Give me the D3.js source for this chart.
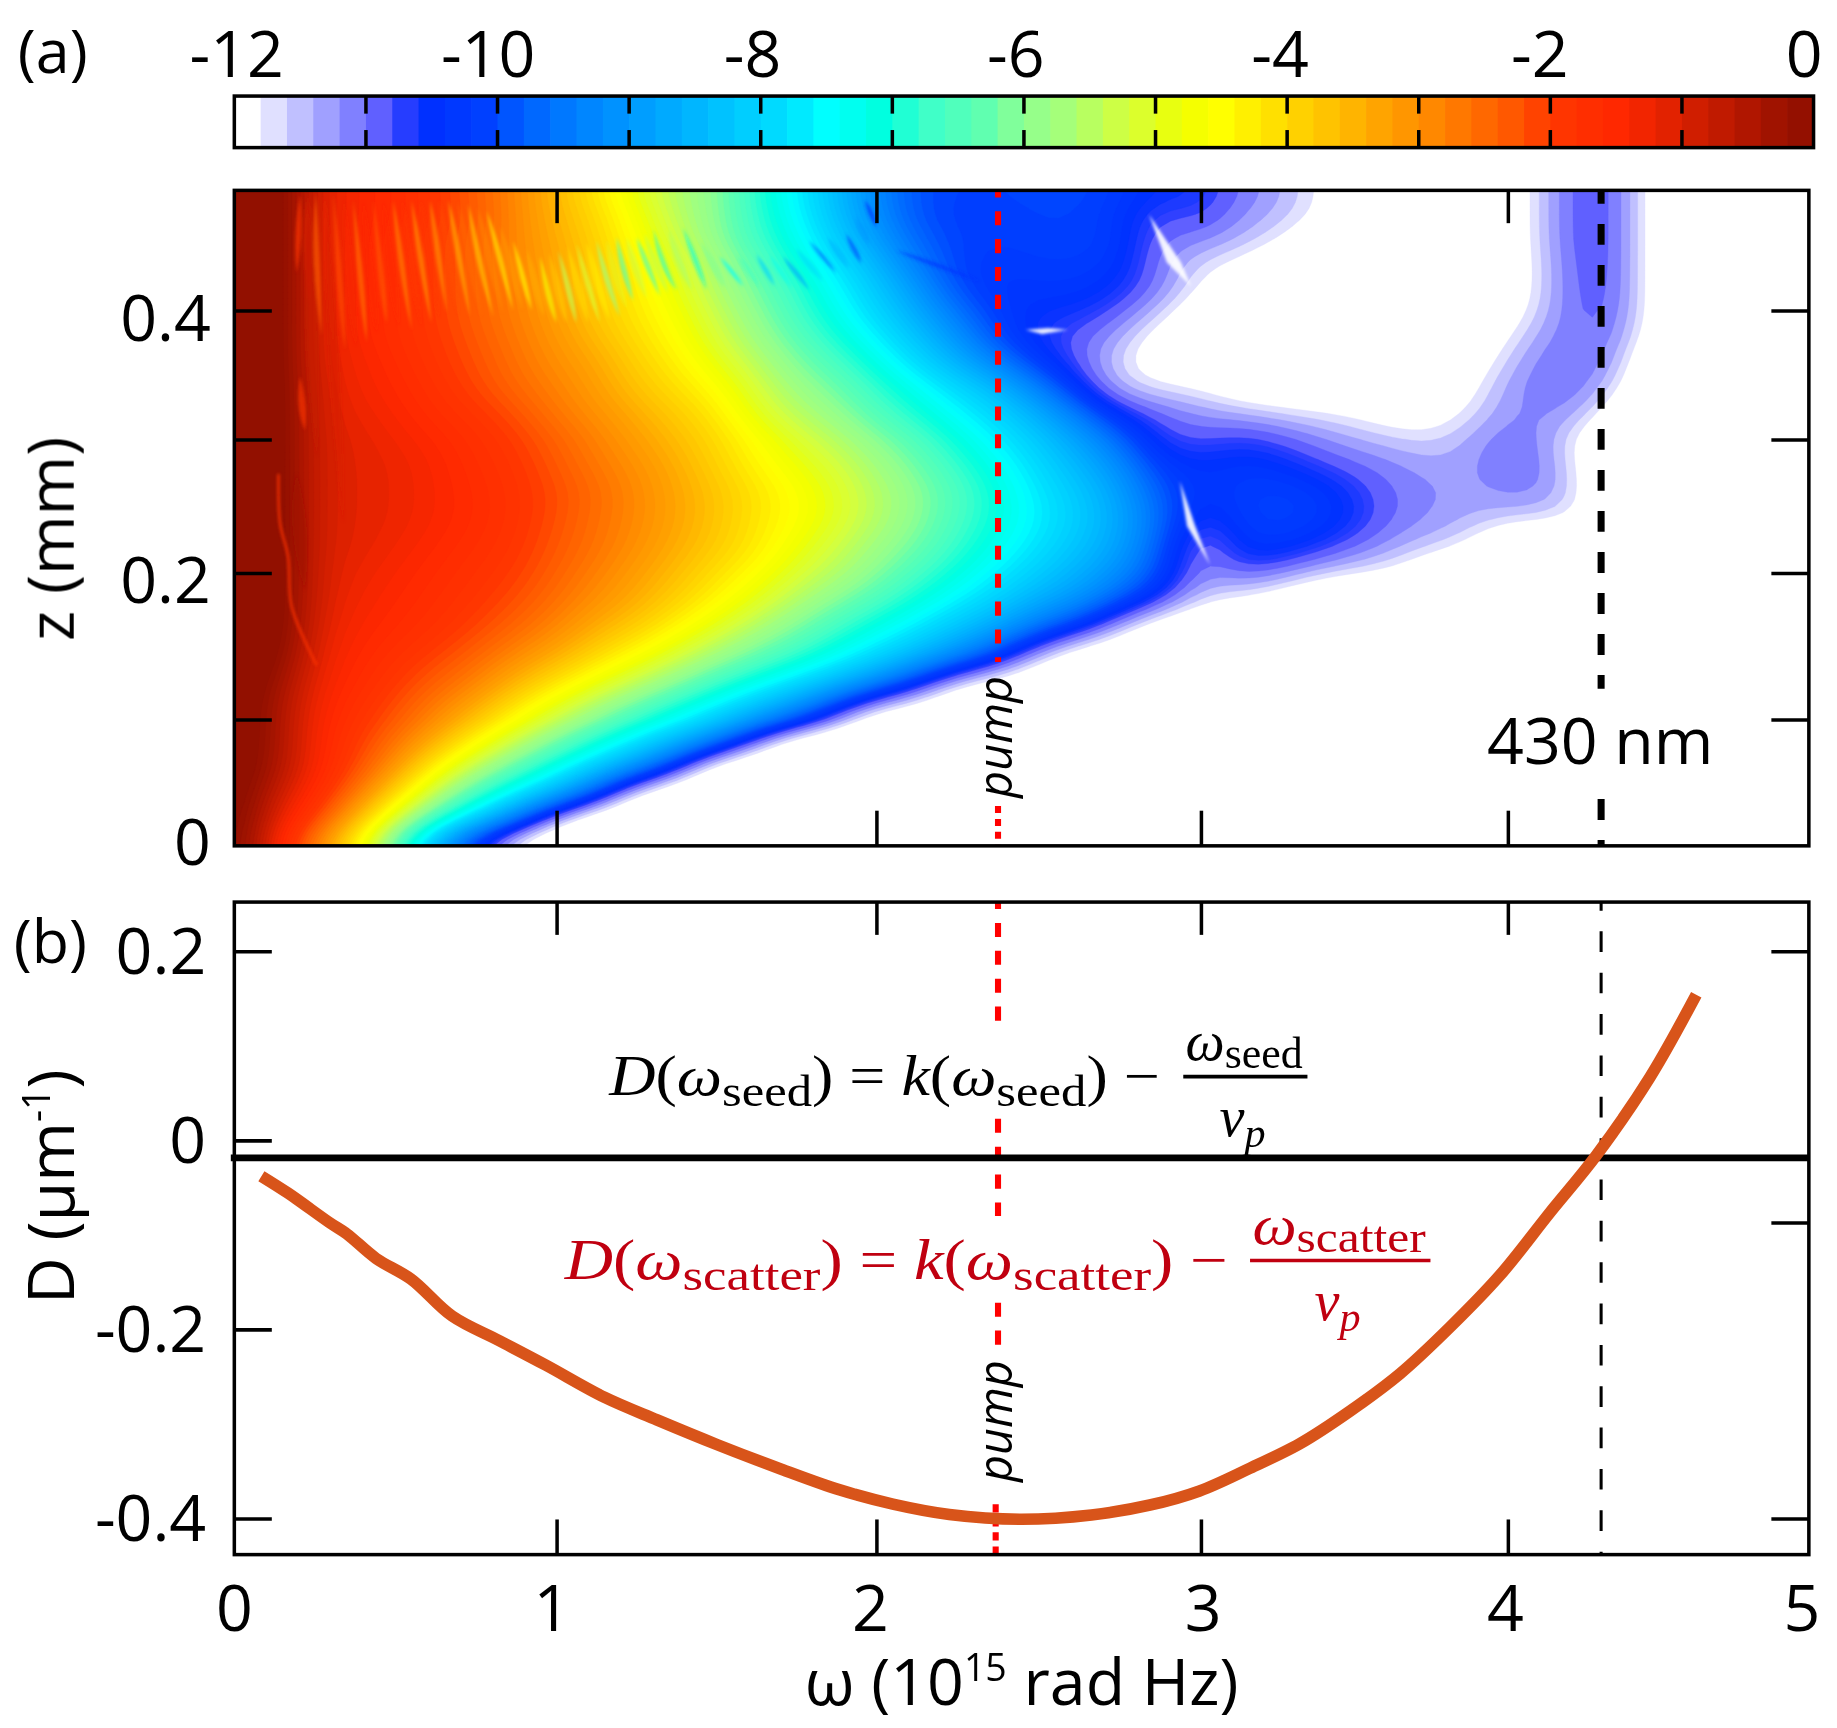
<!DOCTYPE html>
<html><head><meta charset="utf-8">
<script src="https://cdn.jsdelivr.net/npm/d3@7"></script>
<style>
html,body{margin:0;padding:0;background:#fff;overflow:hidden}
svg{display:block}
text{font-family:"Open Sans",sans-serif;fill:#000}
.m{font-family:"Liberation Serif",serif}
</style></head><body>
<script>
// ---------- data ----------
const colorStops = [[-12,"#ffffff"],[-11.9,"#ffffff"],[-11.7,"#e0e0ff"],[-11.5,"#c0c0ff"],[-11.3,"#a0a0ff"],[-11.1,"#8080ff"],[-10.9,"#6060ff"],[-10.75,"#3040ff"],[-10.5,"#0030ff"],[-10.1,"#0040ff"],[-9.8,"#0060ff"],[-9.4,"#0080ff"],[-9,"#0098ff"],[-8.6,"#00b0ff"],[-8.2,"#00c8ff"],[-7.8,"#00e0ff"],[-7.5,"#00ffff"],[-7.1,"#00ffe0"],[-6.7,"#40ffc8"],[-6.3,"#60ffb0"],[-6,"#90ff90"],[-5.75,"#a0ff80"],[-5.5,"#b8ff60"],[-5.2,"#d8ff38"],[-5,"#e0ff20"],[-4.8,"#f0ff00"],[-4.5,"#ffff00"],[-4.2,"#ffe800"],[-4,"#ffd800"],[-3.65,"#ffc000"],[-3.25,"#ffa000"],[-3,"#ff9000"],[-2.7,"#ff7800"],[-2.3,"#ff5800"],[-2,"#ff3800"],[-1.75,"#ff3000"],[-1.5,"#ff2800"],[-1.2,"#ec2400"],[-1,"#d82000"],[-0.8,"#c81c00"],[-0.6,"#b81800"],[-0.4,"#a81400"],[-0.2,"#991200"],[0,"#8f0f00"]];
const barLabels = [-12,-10,-8,-6,-4,-2,0];
const omegaTicks = [0,1,2,3,4,5];
const zTicks = [0,0.1,0.2,0.3,0.4];
const zLabels = [0,0.2,0.4];
const dLeftTicks = [0.2,0,-0.2,-0.4];
const dRightTicks = [0.2,-0.087,-0.4];
const omegaPump = 2.375, omegaSeed = 4.31, dSeedLine = -0.0186;
// log intensity: rows run z = 0 to 0.5 in steps of 0.02, columns omega = 0 to 5 in steps of 0.125
// a row that stops early is blank to its right
const intensity = [
[.4,-1.4,-2.9,-4.5,-6.7,-9.1,-11,-12.6,-14],
[.4,-1.1,-2,-3.5,-5.2,-6.8,-8.1,-9.5,-11.8,-13.5,-15],
[.4,-.8,-1.6,-2.6,-4.1,-5.5,-6.7,-7.7,-8.6,-9.95,-12.4,-14],
[.4,-.4,-1.4,-2.1,-3.1,-4.6,-5.6,-6.5,-7.4,-8.3,-9.1,-10.7,-12.9,-14.5],
[.4,-.3,-1.4,-1.95,-2.6,-3.5,-4.6,-5.5,-6.3,-7.1,-7.9,-8.6,-9.6,-11.4,-13.2,-15],
[.4,-.3,-1.4,-1.8,-2.3,-2.9,-3.7,-4.6,-5.4,-6.1,-6.8,-7.5,-8.1,-8.8,-9.7,-11.2,-13,-15],
[.4,-.2,-1.3,-1.6,-2,-2.5,-2.9,-3.7,-4.4,-5.1,-5.7,-6.3,-7,-7.6,-8.2,-8.9,-9.7,-10.9,-12.6,-14.5],
[.4,.2,-1.2,-1.5,-1.8,-2.1,-2.5,-3,-3.5,-4.1,-4.7,-5.3,-5.9,-6.4,-6.9,-7.4,-8,-8.6,-9.3,-10.3,-11.9,-13.5,-15],
[.4,.4,-1.1,-1.4,-1.6,-1.8,-2.1,-2.5,-2.9,-3.5,-3.9,-4.5,-5.1,-5.7,-6.2,-6.8,-7.3,-7.8,-8.4,-8.9,-9.7,-10.5,-11.7,-13,-14.5],
[.4,.4,-1,-1.3,-1.5,-1.7,-1.9,-2.2,-2.6,-3,-3.4,-3.9,-4.4,-5,-5.6,-6.1,-6.6,-7.1,-7.6,-8.1,-8.7,-9,-9.9,-10.5,-11.7,-12,-12.5,-14],
[.4,.4,-1,-1.2,-1.4,-1.6,-1.8,-2,-2.4,-2.8,-3.2,-3.6,-4.1,-4.5,-5.1,-5.5,-6,-6.6,-7.1,-7.6,-8.1,-8.6,-9.1,-10,-11.3,-10.7,-10.9,-11.4,-11.7,-11.8,-12.5,-13.5],
[.4,.4,-1,-1.1,-1.3,-1.5,-1.7,-1.9,-2.3,-2.6,-3,-3.4,-3.8,-4.2,-4.8,-5.3,-5.8,-6.2,-6.8,-7.3,-7.8,-8.3,-8.8,-9.8,-11.5,-10.3,-10.3,-10.5,-10.9,-11.3,-11.5,-11.7,-13,-14],
[.4,.4,-1,-1.1,-1.2,-1.4,-1.6,-1.85,-2.2,-2.6,-2.9,-3.3,-3.7,-4.2,-4.5,-5,-5.5,-6,-6.6,-7.1,-7.6,-8.1,-8.7,-9.6,-10.8,-10.2,-10.1,-10.2,-10.5,-11,-11.2,-11.4,-11.5,-11.6,-11.8,-13],
[.4,.4,-1,-1.1,-1.2,-1.4,-1.6,-1.85,-2.15,-2.5,-2.9,-3.3,-3.7,-4.1,-4.55,-5,-5.5,-5.95,-6.5,-7.1,-7.7,-8.2,-8.8,-9.9,-10.5,-10.2,-10.1,-10.2,-10.6,-11,-11.15,-11.3,-11.1,-11.1,-11.8,-13],
[.4,.4,-1,-1.1,-1.2,-1.4,-1.7,-1.9,-2.3,-2.7,-3,-3.4,-3.9,-4.4,-4.8,-5.2,-5.7,-6.2,-6.8,-7.3,-7.9,-8.5,-9.1,-10.3,-10.4,-10.3,-10.4,-10.7,-10.9,-11.1,-11.3,-11.3,-10.9,-11.1,-11.9,-13],
[.4,.4,-1,-1.1,-1.3,-1.5,-1.75,-2,-2.4,-2.8,-3.2,-3.6,-4,-4.5,-5.1,-5.5,-6,-6.5,-7.1,-7.6,-8.2,-8.8,-9.7,-10.8,-10.9,-10.6,-10.8,-11.1,-11.4,-11.5,-11.7,-11.3,-10.95,-11.2,-12.1,-13],
[.4,.4,-1,-1.2,-1.4,-1.7,-1.9,-2.2,-2.7,-3,-3.4,-3.8,-4.2,-5,-5.5,-5.9,-6.5,-7,-7.5,-8,-8.6,-9.5,-10.5,-10.9,-11.2,-11.3,-11.5,-11.7,-11.8,-12.2,-12.2,-11.7,-11.2,-11.15,-11.25,-12.5],
[.4,.4,-1,-1.3,-1.5,-1.8,-2.1,-2.5,-2.8,-3.2,-3.7,-4.1,-4.5,-5.2,-5.8,-6.2,-6.8,-7.3,-7.9,-8.4,-9.4,-10.4,-11.6,-11.7,-11.8,-12.4,-12.6,-12.6,-12.6,-12.6,-12.6,-12,-11.2,-11,-11,-11.7,-13],
[.4,.4,-1.1,-1.3,-1.6,-1.9,-2.2,-2.6,-3,-3.3,-3.9,-4.3,-4.9,-5.5,-6.1,-6.6,-7.2,-7.9,-8.6,-9.4,-10.3,-10.9,-11.7,-12.4,-12.6,-12.6,-12.6,-12.6,-12.6,-12.6,-12.6,-12.3,-11.5,-11,-10.95,-11.3,-13],
[.4,.4,-1.1,-1.4,-1.7,-1.95,-2.3,-2.7,-3.1,-3.6,-4.1,-4.5,-5.2,-5.8,-6.4,-7,-7.6,-8.3,-9.1,-10.1,-10.7,-10.9,-11.3,-12.2,-12.6,-12.6,-12.6,-12.6,-12.6,-12.6,-12.6,-12.6,-11.8,-11.2,-10.95,-11.1,-12.4],
[.4,.4,-1.1,-1.4,-1.7,-2,-2.4,-2.8,-3.2,-3.8,-4.2,-4.7,-5.4,-6,-6.7,-7.3,-8,-8.7,-9.6,-10.3,-10.5,-10.5,-10.8,-11.5,-12.4,-12.6,-12.6,-12.6,-12.6,-12.6,-12.6,-12.6,-12.3,-11.4,-10.85,-10.95,-12.3],
[.4,.4,-1.1,-1.4,-1.7,-2,-2.4,-2.8,-3.3,-3.8,-4.3,-4.9,-5.6,-6.2,-6.8,-7.5,-8.2,-9,-10.1,-10.4,-10.3,-10.3,-10.5,-11,-11.9,-12.4,-12.6,-12.6,-12.6,-12.6,-12.6,-12.6,-12.4,-11.5,-10.75,-10.95,-12.3],
[.4,.4,-1.1,-1.4,-1.7,-2,-2.4,-2.9,-3.3,-3.8,-4.4,-5,-5.7,-6.4,-7.1,-7.8,-8.5,-9.5,-10.2,-10.3,-10.2,-10.2,-10.3,-11.1,-11.7,-11.9,-12.4,-12.6,-12.6,-12.6,-12.6,-12.6,-12.4,-11.5,-10.7,-10.95,-12.3],
[.4,.4,-1.1,-1.4,-1.7,-2,-2.4,-2.9,-3.4,-3.9,-4.6,-5.3,-6,-6.7,-7.3,-8.1,-8.9,-9.8,-10.1,-10.2,-10.1,-10.1,-10.2,-11.1,-11,-11.4,-11.7,-12.4,-12.6,-12.6,-12.6,-12.6,-12.4,-11.4,-10.7,-10.95,-12.3],
[.4,.4,-1.1,-1.4,-1.6,-1.9,-2.3,-2.9,-3.5,-4,-4.7,-5.5,-6,-6.8,-7.5,-8.3,-9.2,-10,-10.2,-10.2,-10.1,-10.1,-10.3,-10.9,-10.6,-11.2,-11.4,-11.8,-12.4,-12.6,-12.6,-12.6,-12.4,-11.4,-10.7,-10.95,-12.3],
[.4,.4,-1.1,-1.4,-1.6,-1.95,-2.4,-2.9,-3.6,-4.2,-5,-5.6,-6,-6.9,-7.6,-8.4,-9.3,-10,-10.1,-10.1,-10,-10,-10.2,-10.5,-10.5,-11,-11.3,-11.8,-12.4,-12.6,-12.6,-12.6,-12.4,-11.4,-10.7,-10.95,-12.3]
];
// interference streaks in panel (a): [omega, z] at start, middle, end, the level read there, half width
const streakOmega = [
[.204,.199,.193],[.253,.25,.271],[.307,.328,.344],[.369,.395,.411],[.431,.462,.473],[.493,.514,.55],[.55,.576,.612],[.607,.628,.659],[.664,.69,.731],[.726,.752,.804],[.783,.824,.865],[.865,.897,.923],[.949,.975,1],[1.005,1.042,1.062],[1.062,1.099,1.136],[1.125,1.157,1.198],[1.188,1.209,1.24],[1.25,1.281,1.323],[1.303,1.334,1.376],[1.396,1.438,1.469],[1.51,1.552,1.583],[1.624,1.656,1.682],[1.708,1.75,1.79],[1.79,1.832,1.875],[1.905,1.932,1.953],[1.964,1.985,2]];
const streakZ = [
[.497,.464,.431],[.497,.445,.38],[.497,.417,.369],[.492,.417,.375],[.492,.412,.39],[.492,.445,.385],[.492,.445,.39],[.492,.456,.398],[.492,.456,.395],[.489,.447,.395],[.483,.445,.4],[.458,.425,.4],[.445,.41,.39],[.45,.414,.39],[.456,.42,.39],[.458,.423,.395],[.461,.431,.408],[.461,.439,.412],[.467,.433,.417],[.469,.439,.417],[.445,.431,.42],[.447,.433,.42],[.445,.431,.417],[.458,.445,.431],[.464,.45,.439],[.492,.481,.469]];
const streakLevel = [-2,-2.4,-2.2,-2.6,-2.3,-2.8,-3,-3,-3.4,-3.8,-4.2,-4.4,-4.7,-5.4,-5.2,-5.8,-6.5,-6.6,-6.8,-7,-7.5,-8,-8.8,-9.6,-10,-10.3];
// single features: a dark band through the blue area, a short crest, darker valleys near the left edge
const patchOmega = [[2.06,2.176,2.32],[.204,.209,.219],[.23,.235,.256],[.287,.307,.338],[.193,.199,.219]];
const patchZ = [[.45,.439,.424],[.349,.325,.307],[.489,.39,.287],[.483,.364,.237],[.274,.237,.188]];
const patchLevel = [-10.5,-2,-.8,-1,-.3];
const patchWidth = [5,3,5,4,6];
const ridgeOmega = [.137,.142,.167,.178,.255], ridgeZ = [.274,.237,.212,.177,.137];
const spikeOmega = [2.935,2.97,3.03], spikeZ = [.269,.235,.206];
const notchOmega = [2.84,2.917,2.97], notchZ = [.48,.44,.42];
const dashOmega = [2.46,2.52,2.59], dashZ = [.385,.384,.385];
const curveOmega = [.084,.167,.295,.349,.44,.549,.676,.822,.967,1.15,1.315,1.502,1.703,1.886,2.051,2.225,2.442,2.663,2.843,2.996,3.16,3.323,3.486,3.649,3.811,3.974,4.14,4.295,4.472,4.626];
const curveD = [-.038,-.056,-.087,-.099,-.125,-.147,-.186,-.212,-.238,-.272,-.296,-.322,-.348,-.370,-.385,-.396,-.401,-.3965,-.386,-.371,-.347,-.321,-.2866,-.247,-.198,-.143,-.0765,-.0155,.0666,.154];

// ---------- layout ----------
const W = 1568, H = 1475;
const svg = d3.select("body").append("svg").attr("width",1837).attr("height",1728).attr("viewBox",`0 0 ${W} ${H}`);
const defs = svg.append("defs");
const L=200,R=1544, aT=162.5,aB=722, bT=770,bB=1327, cL=200,cR=1548,cT=82,cB=126;
const x = d3.scaleLinear().domain(omegaTicks).range([L,475,748,1025,1287,R]);
const y = d3.scaleLinear().domain([0,.1,.2,.3,.4,.5]).range([aB,614,489,375,265,aT]);
const yD = d3.scaleLinear().domain([.2,-.4]).range([812,1296]);
const xc = d3.scaleLinear().domain([-12,0]).range([cL,cR]);
const col = d3.scaleLinear().domain(colorStops.map(d=>d[0])).range(colorStops.map(d=>d[1])).interpolate(d3.interpolateRgb).clamp(true);
const FS=55;
const txt=(s,xx,yy,o={})=>{const t=svg.append("text").attr("x",xx).attr("y",yy).attr("font-size",o.size||FS).attr("text-anchor",o.anchor||"middle").text(s);if(o.rot!=null)t.attr("transform",`rotate(${o.rot} ${xx} ${yy})`);if(o.italic)t.attr("font-style","italic");return t;};

// ---------- colour bar ----------
const bands = d3.range(0,60).map(i=>-12+i*.2);
svg.append("g").selectAll("rect").data(bands).join("rect")
  .attr("x",d=>xc(d)).attr("y",cT).attr("width",d=>xc(d+.2)-xc(d)+.6).attr("height",cB-cT).attr("fill",d=>col(d+.1));
svg.append("rect").attr("x",cL).attr("y",cT).attr("width",cR-cL).attr("height",cB-cT).attr("fill","none").attr("stroke","#000").attr("stroke-width",3);
d3.range(-11,0).forEach(v=>{
  [[cT,cT+15],[cB-15,cB]].forEach(s=>svg.append("line").attr("x1",xc(v)).attr("x2",xc(v)).attr("y1",s[0]).attr("y2",s[1]).attr("stroke","#000").attr("stroke-width",3));
});
const barLabelShift={"-12":2,"-10":-8,"-8":-7,"-6":-7,"-4":-6,"-2":-9,"0":-8};
barLabels.forEach(v=>txt(String(v),xc(v)+barLabelShift[v],66));

// ---------- panel (a) field ----------
defs.append("clipPath").attr("id","ca").append("rect").attr("x",L).attr("y",aT).attr("width",R-L).attr("height",aB-aT);
defs.append("filter").attr("id","soft").attr("x","-50%").attr("width","200%").append("feGaussianBlur").attr("stdDeviation",1.5);
const nx=41, ny=intensity.length, up=4;
const coarse=(i,j)=>{const r=intensity[j];return Math.max(-13,i<r.length?r[i]:-13);};
const fw=(nx-1)*up+1, fh=(ny-1)*up+1;
const fine=new Float64Array(fw*fh);
for(let b=0;b<fh;b++)for(let a=0;a<fw;a++){
  const i=Math.min(nx-2,Math.floor(a/up)), j=Math.min(ny-2,Math.floor(b/up)), u=a/up-i, v=b/up-j;
  fine[a+b*fw]=(1-u)*(1-v)*coarse(i,j)+u*(1-v)*coarse(i+1,j)+(1-u)*v*coarse(i,j+1)+u*v*coarse(i+1,j+1);
}
d3.blur2({data:fine,width:fw,height:fh},1.6);
const thresholds=[...d3.range(-11.8,-10.8,.2),...d3.range(-10.8,-.05,.1)].map(t=>+t.toFixed(2));
const contours=d3.contours().size([fw,fh]).smooth(true).thresholds(thresholds)(fine);
const gridPath=d3.geoPath(d3.geoTransform({point(a,b){
  const o=Math.max(0,Math.min(5,(a-.5)/up*.125)), z=Math.max(0,Math.min(.5,(b-.5)/up*.02));
  this.stream.point(x(o),y(z));
}}));
const bandCol=t=>col(t<-10.8?t+.1:t+.05);
const ga=svg.append("g").attr("clip-path","url(#ca)");
ga.selectAll("path.c").data(contours).join("path").attr("class","c").attr("d",gridPath).attr("fill",d=>bandCol(d.value)).attr("stroke",d=>bandCol(d.value)).attr("stroke-width",.3);
const gr=ga.append("g").attr("filter","url(#soft)");
const spindle=(p,w)=>{const [a,b,c]=p;return `M${a}Q${b[0]-w},${b[1]} ${c}Q${b[0]+w},${b[1]} ${a}Z`;};
// valleys half way between neighbouring crests, then the crests
streakOmega.slice(0,-1).forEach((o,i)=>{
  const p=o.map((v,k)=>[x((v+streakOmega[i+1][k])/2),y((streakZ[i][k]+streakZ[i+1][k])/2)]);
  gr.append("path").attr("d",spindle(p,7)).attr("fill",col((streakLevel[i]+streakLevel[i+1])/2+1)).attr("opacity",.4);
});
streakOmega.forEach((o,i)=>{
  const p=o.map((v,k)=>[x(v),y(streakZ[i][k])]);
  gr.append("path").attr("d",spindle(p,5)).attr("fill",col(streakLevel[i])).attr("opacity",.65);
});
patchOmega.forEach((o,i)=>{
  const p=o.map((v,k)=>[x(v),y(patchZ[i][k])]);
  gr.append("path").attr("d",spindle(p,patchWidth[i]*2)).attr("fill",col(patchLevel[i])).attr("opacity",.62);
});
const ln=d3.line().curve(d3.curveCatmullRom);
gr.append("path").attr("d",ln(ridgeOmega.map((o,i)=>[x(o),y(ridgeZ[i])]))).attr("fill","none").attr("stroke",col(-1.9)).attr("stroke-width",2.2).attr("opacity",.8);
[[spikeOmega,spikeZ,3.5],[notchOmega,notchZ,6],[dashOmega,dashZ,2.5]].forEach(([a,b,w])=>{
  const p=a.map((o,i)=>[x(o),y(b[i])]);
  gr.append("path").attr("d",`M${p[0]}L${p[1][0]-w},${p[1][1]+(a===dashOmega?w:0)}L${p[2]}L${p[1][0]+w},${p[1][1]-(a===dashOmega?w:0)}Z`).attr("fill","#fff").attr("opacity",.92);
});

// pump + 430 nm markers, panel (a)
const vline=(xx,y1,y2,c,w,dash,off)=>svg.append("line").attr("x1",xx).attr("x2",xx).attr("y1",y1).attr("y2",y2).attr("stroke",c).attr("stroke-width",w).attr("stroke-dasharray",dash).attr("stroke-dashoffset",off||0);
vline(x(omegaPump),aT,565,"#ff0000",5.2,"12 11.8",6);
vline(x(omegaPump),688,aB,"#ff0000",5.2,"6 5");
vline(x(omegaSeed),aT,588,"#000",6,"17.9 17.1",6.4);
vline(x(omegaSeed),682,aB,"#000",6,"17.9 17.1",0);
txt("pump",864,629,{size:40,rot:-90,italic:true});
txt("430 nm",1366,652);

// frames & ticks
const frame=(t,b)=>svg.append("rect").attr("x",L).attr("y",t).attr("width",R-L).attr("height",b-t).attr("fill","none").attr("stroke","#000").attr("stroke-width",3);
frame(aT,aB);
const ax=(g,axis)=>{const s=svg.append("g").attr("transform",g).call(axis);s.selectAll(".domain").remove();s.selectAll("text").remove();s.selectAll("line").attr("stroke","#000").attr("stroke-width",3);};
const inner=omegaTicks.slice(1,-1);
ax(`translate(0,${aB})`,d3.axisBottom(x).tickValues(inner).tickSizeInner(-30));
ax(`translate(0,${aT})`,d3.axisTop(x).tickValues(inner).tickSizeInner(-28));
ax(`translate(${L},0)`,d3.axisLeft(y).tickValues(zTicks.slice(1)).tickSizeInner(-32));
ax(`translate(${R},0)`,d3.axisRight(y).tickValues(zTicks.slice(1)).tickSizeInner(-32));
zLabels.forEach(v=>{const s=v===0?-3:7;txt(v===0?"0":v.toFixed(1),180,y(v)+s+19,{anchor:"end"});});

// ---------- panel (b) ----------
vline(x(omegaPump),bT,876,"#ff0000",5.2,"12 11.8",6);
vline(x(omegaPump),955,1038,"#ff0000",5.2,"12 11.8");
vline(x(omegaPump),1112,1148,"#ff0000",5.2,"12 11.8");
vline(x(omegaPump)-2,1284,bB,"#ff0000",5.2,"7 5");
vline(x(omegaSeed),bT,bB,"#000",2.6,"17.6 17.7",-25);
svg.append("line").attr("x1",197).attr("x2",R).attr("y1",yD(dSeedLine)).attr("y2",yD(dSeedLine)).attr("stroke","#000").attr("stroke-width",5.7);
svg.append("path").attr("d",d3.line().curve(d3.curveCatmullRom)(curveOmega.map((o,i)=>[x(o),yD(curveD[i])]))).attr("fill","none").attr("stroke","#d8541a").attr("stroke-width",10);
frame(bT,bB);
txt("pump",864,1213,{size:40,rot:-90,italic:true});
ax(`translate(0,${bB})`,d3.axisBottom(x).tickValues(inner).tickSizeInner(-30));
ax(`translate(0,${bT})`,d3.axisTop(x).tickValues(inner).tickSizeInner(-28));
ax(`translate(${L},0)`,d3.axisLeft(yD).tickValues(dLeftTicks).tickSizeInner(-32));
ax(`translate(${R},0)`,d3.axisRight(yD).tickValues(dRightTicks).tickSizeInner(-32));
dLeftTicks.forEach(v=>txt(v===0?"0":v.toFixed(1),176,yD(v)+19,{anchor:"end"}));
const xShift=[0,-4,-5,2,-2,-6];
omegaTicks.forEach((v,i)=>txt(String(v),x(v)+xShift[i],1392));

// axis titles
txt("z (mm)",63,460,{rot:-90});
const dl=svg.append("text").attr("transform","translate(63,1013) rotate(-90)").attr("text-anchor","middle").attr("font-size",FS);
dl.append("tspan").text("D (μm");dl.append("tspan").attr("font-size",32).attr("dy",-20).text("-1");dl.append("tspan").attr("dy",20).text(")");
const xl=svg.append("text").attr("x",872).attr("y",1455).attr("text-anchor","middle").attr("font-size",FS);
xl.append("tspan").text("ω (10");xl.append("tspan").attr("font-size",32).attr("dy",-20).text("15");xl.append("tspan").attr("dy",20).text(" rad Hz)");
txt("(a)",45,62,{size:52});
txt("(b)",43,822,{size:52});

// ---------- equations ----------
function eq(sub,baseline,x0,xEnd,fx0,fx1,c){
  const t=svg.append("text").attr("class","m").attr("x",x0).attr("y",baseline).attr("font-size",48).attr("textLength",xEnd-x0).attr("lengthAdjust","spacingAndGlyphs").style("fill",c);
  const parts=[["D","i"],["(",""],["ω","i"],[sub,"s"],[")",""],[" = ",""],["k","i"],["(",""],["ω","i"],[sub,"s"],[")",""],[" − ",""]];
  let pend=0;
  parts.forEach(([s,k])=>{
    const sp=t.append("tspan").text(s).style("fill",c);
    if(k==="i")sp.attr("font-style","italic");
    if(k==="s"){sp.attr("font-size",38).attr("dy",9);pend=-9;}
    else if(pend){sp.attr("dy",pend);pend=0;}
  });
  const f=svg.append("text").attr("class","m").attr("x",fx0+2).attr("y",baseline-30).attr("font-size",48).attr("textLength",fx1-fx0-6).attr("lengthAdjust","spacingAndGlyphs").style("fill",c);
  f.append("tspan").attr("font-style","italic").text("ω").style("fill",c);
  f.append("tspan").attr("font-size",38).attr("dy",7).text(sub).style("fill",c);
  svg.append("line").attr("x1",fx0).attr("x2",fx1).attr("y1",baseline-16).attr("y2",baseline-16).attr("stroke",c).attr("stroke-width",3);
  const v=svg.append("text").attr("class","m").attr("x",(fx0+fx1)/2-22).attr("y",baseline+35).attr("font-size",48).style("fill",c).attr("font-style","italic");
  v.append("tspan").text("v").style("fill",c);
  v.append("tspan").attr("font-size",36).attr("dy",9).text("p").style("fill",c);
}
eq("seed",935,520,990,1010,1116,"#000");
eq("scatter",1092,482,1048,1067,1221,"#c00010");
</script>
</body></html>
